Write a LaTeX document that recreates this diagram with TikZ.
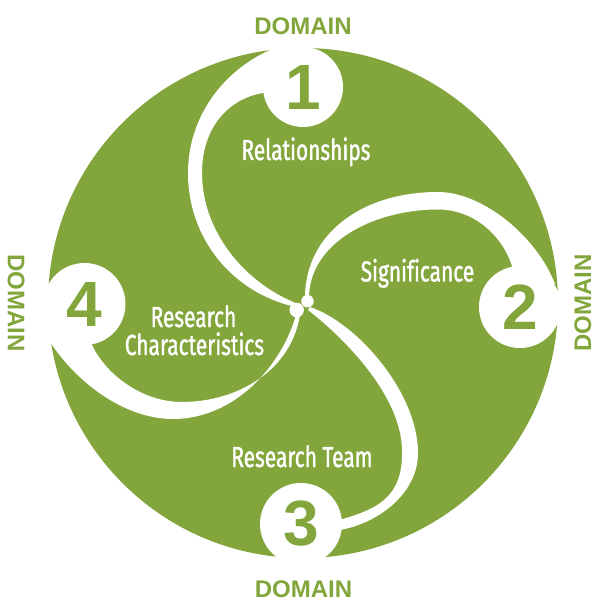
\documentclass[tikz,border=0pt]{standalone}
\usepackage{fontspec}
\setmainfont{Liberation Sans}
\newfontfamily\condfont[FakeStretch=0.72, FakeBold=1.2, Ligatures=NoCommon]{Fira Sans}
\definecolor{leaf}{RGB}{130,166,59}
\begin{document}
\begin{tikzpicture}[x=1pt,y=1pt,
  domainlbl/.style={text=leaf, font=\fontsize{24}{24}\selectfont\bfseries, inner sep=0, anchor=base},
  numdisc/.style={circle, fill=white, text=leaf, inner sep=0, font=\fontsize{64}{64}\selectfont\bfseries},
  dotdisc/.style={circle, fill=white, inner sep=0},
  lbl/.style={text=white, font=\condfont\fontsize{29}{29}\selectfont, inner sep=0, anchor=base},
  armfill/.style={fill=white}]
\useasboundingbox (-303,-299) rectangle (292,303);
\fill[leaf] (0,0) circle (255);
% arm 1 (up)
\fill[armfill] (-33,253) .. controls (-82,231) and (-115,184) .. (-115,130)
  .. controls (-115,65) and (-71,10) .. (-7,-4)
  -- (-5,-1) .. controls (-59,20) and (-101,72) .. (-101,130)
  .. controls (-101,178) and (-72,205) .. (-40,210)
  -- (0,216) -- (0,262) -- (-33,262) -- cycle;
% arm 2 (right)
\fill[armfill] (252,19) .. controls (234,66) and (180,111) .. (135,111)
  .. controls (60,111) and (2,70) .. (2,5)
  -- (6,5) .. controls (6,60) and (70,93.5) .. (135,93.5)
  .. controls (175,93.5) and (203,62) .. (210,33)
  -- (217,-4) -- cycle;
% arm 3 (down)
\fill[armfill] (37,-227) .. controls (76,-220) and (115,-190) .. (115,-150)
  .. controls (115,-90) and (54.5,-20) .. (7,-4)
  -- (5,-7) .. controls (45,-38) and (99,-95) .. (99,-148)
  .. controls (100,-195) and (73.5,-205.7) .. (40,-216)
  -- (-2,-221) -- cycle;
% arm 4 (left)
\fill[armfill] (-256,-34) .. controls (-230,-77) and (-180,-116) .. (-130,-116)
  .. controls (-70,-116) and (-22,-65) .. (-7,-12)
  -- (-3,-12) .. controls (-12,-68) and (-66,-99) .. (-121,-99)
  .. controls (-166,-99) and (-203,-65) .. (-213,-37)
  -- (-218,-1) -- (-265,-1) -- (-265,-34) -- cycle;
% centre dots
\node[dotdisc, minimum size=14.5pt] (d1) at (-6.3,-7) {};
\node[dotdisc, minimum size=12.5pt] (d2) at (4.5,1.8) {};
% number discs
\node[numdisc, minimum size=80pt] (n1) at (0,216) {1};
\node[numdisc, minimum size=82pt] (n2) at (217,-4) {2};
\node[numdisc, minimum size=82pt] (n3) at (-2,-221) {3};
\node[numdisc, minimum size=82pt] (n4) at (-218.5,-1) {4};
% labels
\node[lbl] (l1) at (3,143) {Relationships};
\node[lbl] (l2) at (114.5,21.5) {Significance};
\node[lbl] (l3) at (-1,-164) {Research Team};
\node[lbl] (l4a) at (-109.5,-24) {Research};
\node[lbl] (l4b) at (-108.5,-52) {Characteristics};
% domain labels
\node[domainlbl] (dt) at (0,268.7) {DOMAIN};
\node[domainlbl] (db) at (0.5,-294.5) {DOMAIN};
\node[domainlbl, rotate=-90] (dl) at (-295,0) {DOMAIN};
\node[domainlbl, rotate=90] (dr) at (288,0) {DOMAIN};
\end{tikzpicture}
\end{document}
